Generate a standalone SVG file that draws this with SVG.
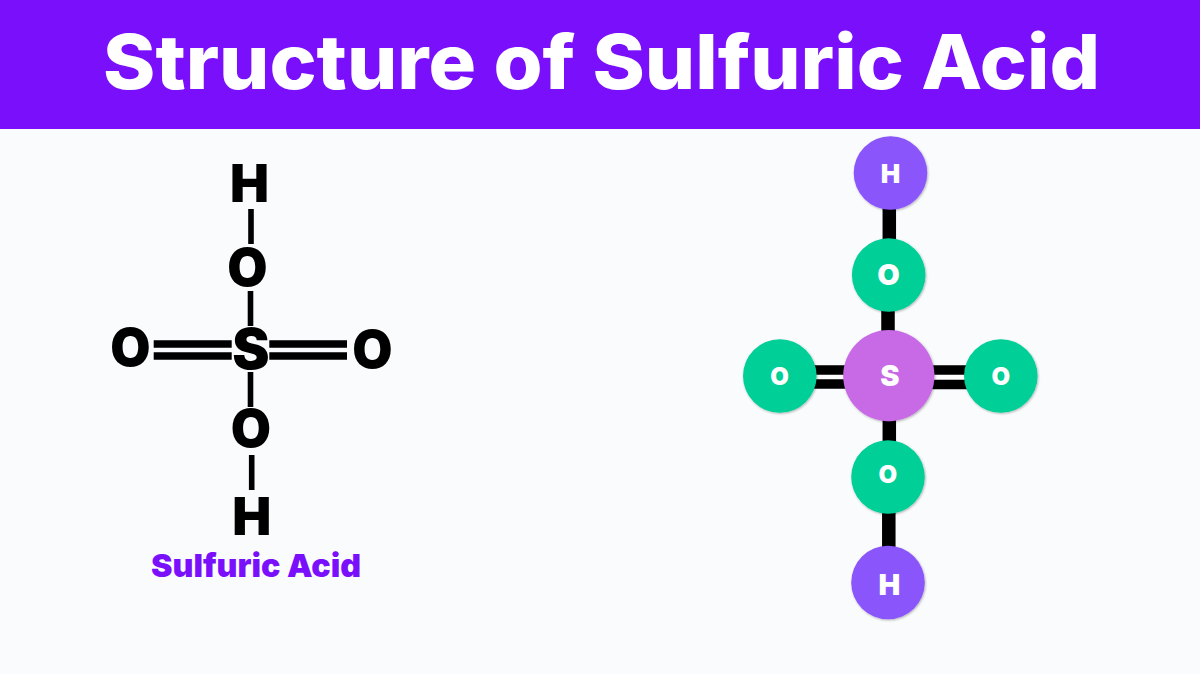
<svg xmlns="http://www.w3.org/2000/svg" width="1200" height="674" viewBox="0 0 1200 674">
<defs>
<filter id="sh" x="-20%" y="-20%" width="140%" height="140%"><feDropShadow dx="0.8" dy="1" stdDeviation="1" flood-color="#000" flood-opacity="0.3"/></filter>
</defs>
<style>
.f{font-family:"Inter","Liberation Sans",sans-serif;font-weight:900}
.t{font-family:"Inter","Liberation Sans",sans-serif;font-weight:800}
.sym{font-size:52px;fill:#000;text-anchor:middle}
.lbl{fill:#fff;text-anchor:middle;font-size:26px}
.sm{font-size:24px}
.b{stroke:#000;stroke-width:5.6;fill:none}
.d{stroke:#000;stroke-width:7.6;fill:none}
.B{stroke:#000;stroke-width:13.5;fill:none}
.bs{stroke:#000;stroke-width:9.6;fill:none}
.gap{stroke:#fff;stroke-width:4;fill:none}
.o{fill:#00cf97;filter:url(#sh)}
.h{fill:#8a55fb;filter:url(#sh)}
.s{fill:#c86ae6;filter:url(#sh)}
</style>
<rect width="1200" height="674" fill="#fafbfd"/>
<rect id="banner" width="1200" height="129" fill="#7a0ffb"/>
<text class="t" x="103" y="89" font-size="76" fill="#fff" textLength="997" lengthAdjust="spacingAndGlyphs">Structure of Sulfuric Acid</text>
<g id="connectors">
<path class="b" d="M251 209V244M250.500 291V326M250.500 372V407M251.700 455V490"/>
<path class="d" d="M153.700 344H231.700M153.700 356H231.700M269.300 344H347M269.300 356H347"/>
<path class="B" d="M889.300 205V245M888 305V340M889.300 415V445M888.800 510V550"/>
<path class="bs" d="M812 370H850M812 384H850M930 370H968M930 384.500H968"/>
<path class="gap" d="M815 377H845M933 377H966"/>
</g>
<g id="formula">
<text class="f sym" x="249.400" y="202.300">H</text>
<text class="f sym" x="247.500" y="285.500">O</text>
<text class="f sym" x="251" y="368.500" style="font-size:56px">S</text>
<text class="f sym" x="130.400" y="366.300">O</text>
<text class="f sym" x="372.400" y="368.300">O</text>
<text class="f sym" x="250.800" y="447">O</text>
<text class="f sym" x="251.700" y="535">H</text>
<text class="f" x="151" y="576.700" font-size="32" fill="#7a0ffb" textLength="210" lengthAdjust="spacingAndGlyphs">Sulfuric Acid</text>
</g>
<g id="atom-h-top"><circle class="h" cx="890.500" cy="173" r="36.800"/><text class="f lbl" x="890.400" y="183.300">H</text></g>
<g id="atom-o-top"><circle class="o" cx="888.700" cy="275" r="36.800"/><text class="f lbl" x="888.500" y="284.500" style="font-size:29px">O</text></g>
<g id="atom-o-left"><circle class="o" cx="779.800" cy="376" r="36.800"/><text class="f lbl sm" x="779.500" y="385">O</text></g>
<g id="atom-s"><circle class="s" cx="888.800" cy="375.700" r="45.600"/><text class="f lbl" x="890" y="385.500" style="font-size:29px">S</text></g>
<g id="atom-o-right"><circle class="o" cx="1000.800" cy="376" r="36.800"/><text class="f lbl sm" x="1000.800" y="385">O</text></g>
<g id="atom-o-bottom"><circle class="o" cx="888" cy="477" r="36.800"/><text class="f lbl sm" x="887.700" y="482.500">O</text></g>
<g id="atom-h-bottom"><circle class="h" cx="888" cy="582.500" r="36.800"/><text class="f lbl" x="889.300" y="595" style="font-size:29px">H</text></g>
</svg>
